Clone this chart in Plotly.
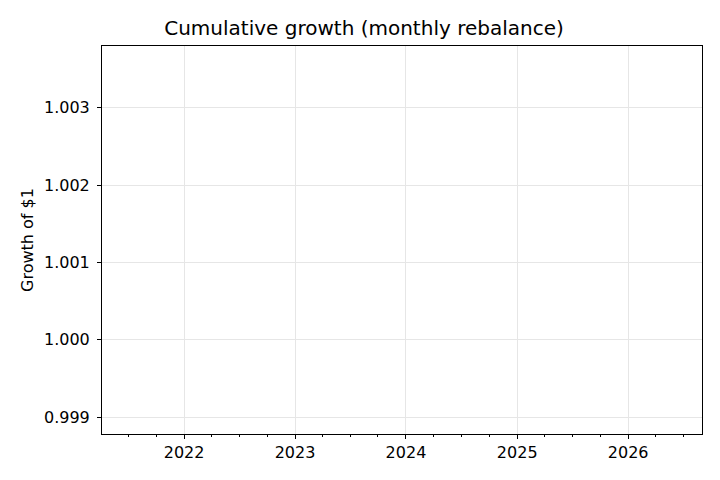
import plotly.graph_objects as go

# Data (the reference plots no visible series)
dates = []
growth = []
y_ticks = [0.999, 1.000, 1.001, 1.002, 1.003]
y_tick_labels = ["0.999", "1.000", "1.001", "1.002", "1.003"]
x_ticks = ["2022-01-01", "2023-01-01", "2024-01-01", "2025-01-01", "2026-01-01"]
x_tick_labels = ["2022", "2023", "2024", "2025", "2026"]

fig = go.Figure()
fig.add_trace(go.Scatter(x=dates, y=growth, mode="lines", line=dict(color="#1f77b4"), showlegend=False))

font = "DejaVu Sans"
axis_common = dict(
    showline=True, mirror=True, linecolor="black", linewidth=1,
    ticks="outside", ticklen=4, tickwidth=1, tickcolor="black",
    showgrid=True, gridcolor="#e6e6e6", gridwidth=0.8, zeroline=False,
    tickfont=dict(family=font, size=16, color="black"),
)

W, H = 712, 472
fig.update_layout(
    width=W, height=H,
    margin=dict(l=94, r=18, t=38, b=46),
    plot_bgcolor="white", paper_bgcolor="white",
    title=dict(text="Cumulative growth (monthly rebalance)", x=0.5, xanchor="center",
               y=1 - 20 / H, yanchor="middle",
               font=dict(family=font, size=20, color="black")),
    xaxis=dict(type="date", range=["2021-04-06", "2026-09-01"],
               tickvals=x_ticks, ticktext=x_tick_labels,
               minor=dict(dtick="M3", tick0="2021-01-01", ticks="outside", ticklen=2,
                          tickcolor="black", showgrid=False),
               **axis_common),
    yaxis=dict(range=[0.99878, 1.0038], tickvals=y_ticks, ticktext=y_tick_labels,
               ticklabelstandoff=4,
               title=dict(text="Growth of $1", font=dict(family=font, size=16, color="black"), standoff=6),
               **axis_common),
)

fig.write_html("out.html")
